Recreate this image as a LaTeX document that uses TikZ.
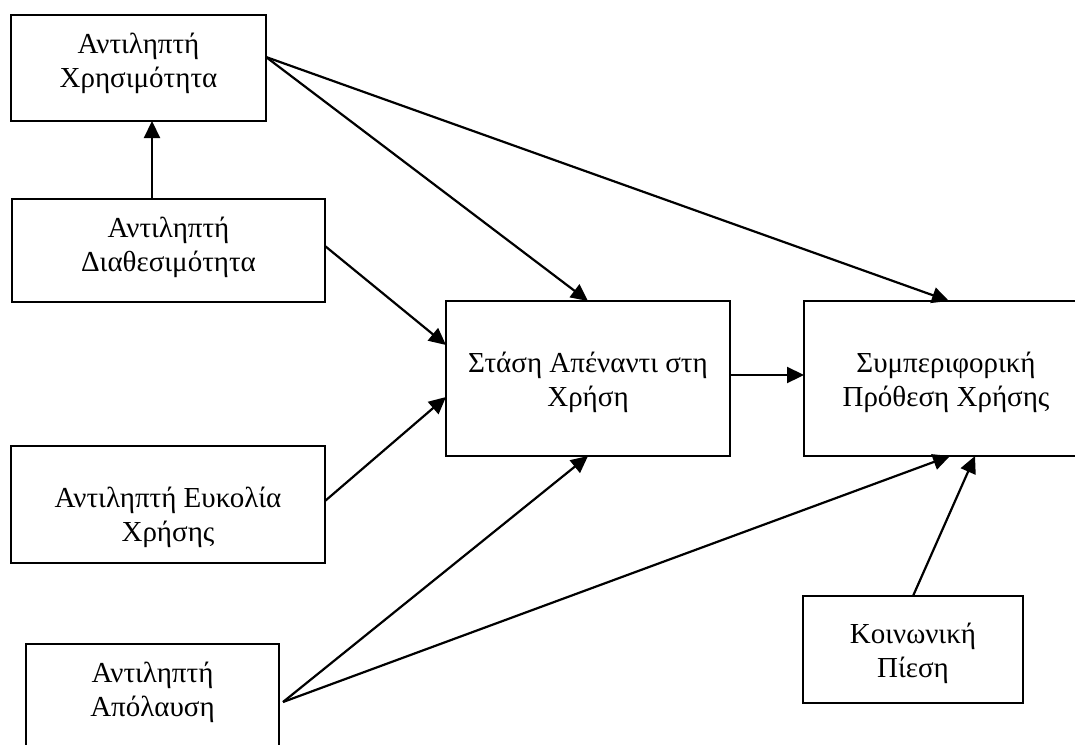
\documentclass[tikz,border=0pt]{standalone}
\usepackage{fontspec}
\setmainfont{Liberation Serif}
\usetikzlibrary{arrows.meta,calc}

\begin{document}
\begin{tikzpicture}[x=1pt,y=-1pt,
  box/.style={draw=black,line width=2.2pt,rectangle,inner sep=0pt,outer sep=0pt},
  lbl/.style={anchor=base,align=center,inner sep=0pt,font=\fontsize{29}{34}\selectfont},
  link/.style={line width=2.2pt,-{Triangle[length=17pt,width=16pt]}}]
  \useasboundingbox (0,0) rectangle (1075,744);
  \clip (0,0) rectangle (1075,744);

  % boxes
  \node[box,minimum width=255pt,minimum height=106pt] (b1) at (138.5,68) {};
  \node[box,minimum width=313pt,minimum height=103pt] (b2) at (168.5,250.5) {};
  \node[box,minimum width=284pt,minimum height=155pt] (b3) at (588,378.5) {};
  \node[box,minimum width=284pt,minimum height=155pt] (b4) at (946,378.5) {};
  \node[box,minimum width=314pt,minimum height=117pt] (b5) at (168,504.5) {};
  \node[box,minimum width=253pt,minimum height=106pt] (b6) at (152.5,697) {};
  \node[box,minimum width=220pt,minimum height=107pt] (b7) at (913,649.5) {};

  % box texts (placed by the baseline of their last line)
  \node[lbl] (t1) at (138.5,87) {Αντιληπτή\\Χρησιμότητα};
  \node[lbl] (t2) at (168.5,271) {Αντιληπτή\\Διαθεσιμότητα};
  \node[lbl] (t3) at (588,406) {Στάση Απέναντι στη\\Χρήση};
  \node[lbl] (t4) at (946,406) {Συμπεριφορική\\Πρόθεση Χρήσης};
  \node[lbl] (t5) at (168,541) {Αντιληπτή Ευκολία\\Χρήσης};
  \node[lbl] (t6) at (152.5,716) {Αντιληπτή\\Απόλαυση};
  \node[lbl] (t7) at (913,677) {Κοινωνική\\Πίεση};

  % connectors
  \draw[link] ([xshift=-16.5pt]b2.north) -- ([xshift=13.5pt]b1.south);
  \draw[link] ([yshift=11pt]b1.east) -- (b3.north);
  \draw[link] ([yshift=11pt]b1.east) -- ([xshift=3pt]b4.north);
  \draw[link] ([yshift=4.5pt]b2.east) -- ([yshift=33.5pt]b3.west);
  \draw[link] ([yshift=3.5pt]b5.east) -- ([yshift=-18.5pt]b3.west);
  \draw[link] ([yshift=3.5pt]b3.east) -- ([yshift=3.5pt]b4.west);
  \draw[link] ([xshift=4pt,yshift=-5pt]b6.east) -- (b3.south);
  \draw[link] ([xshift=4pt,yshift=-5pt]b6.east) -- ([xshift=4pt]b4.south);
  \draw[link] (b7.north) -- ([xshift=29pt]b4.south);
\end{tikzpicture}
\end{document}
